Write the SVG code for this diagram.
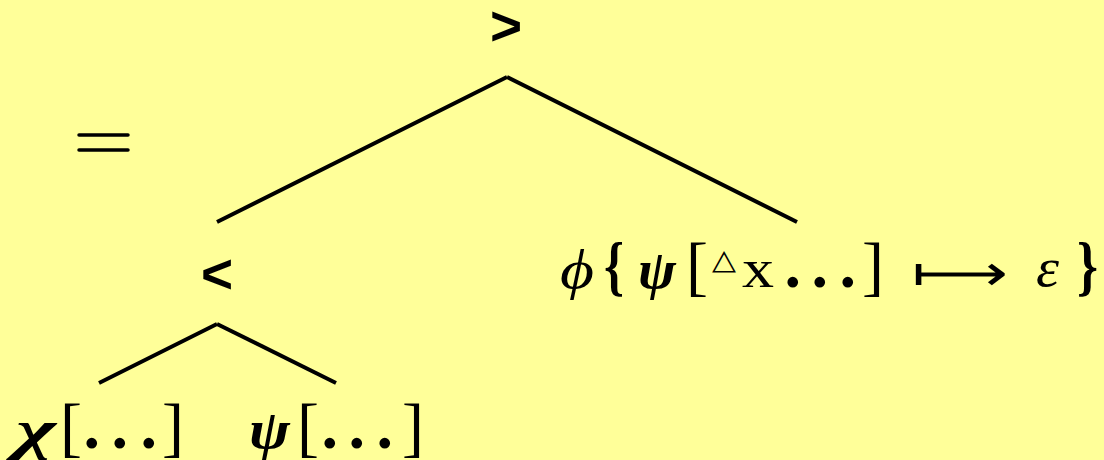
<svg xmlns="http://www.w3.org/2000/svg" width="1104" height="460" viewBox="0 0 1104 460">
<style>
.e{stroke:#000;stroke-width:4;stroke-linecap:butt;fill:none}
.op{font-family:"Liberation Sans",Arial,sans-serif;font-weight:bold;font-size:55px;fill:#000}
.m{font-family:"Liberation Serif","DejaVu Serif",serif;font-size:54px;fill:#000}
.br{font-size:66px}
.d{font-size:66px;font-weight:bold}
.i{font-style:italic}
.b{font-weight:bold}
</style>
<rect width="1104" height="460" fill="#ffff99"/>
<g id="connectors">
<line class="e" x1="507" y1="77" x2="217" y2="222"/>
<line class="e" x1="507" y1="77" x2="797" y2="222"/>
<line class="e" x1="217" y1="324" x2="99" y2="383"/>
<line class="e" x1="217" y1="324" x2="336" y2="383"/>
</g>
<g id="eq"><line x1="79" y1="135" x2="128" y2="135" stroke="#000" stroke-width="3.5" stroke-linecap="round"/><line x1="79" y1="150" x2="128" y2="150" stroke="#000" stroke-width="3.5" stroke-linecap="round"/></g>
<g id="gt"><text class="op" x="506" y="45" text-anchor="middle">&gt;</text></g>
<g id="lt"><text class="op" x="217" y="293" text-anchor="middle">&lt;</text></g>
<g id="right">
<text class="m i" x="560" y="288" font-size="58" textLength="34" lengthAdjust="spacingAndGlyphs">ϕ</text>
<text class="m br b" x="604" y="288" textLength="20" lengthAdjust="spacingAndGlyphs">{</text>
<text class="m i b" x="638" y="288" textLength="38" lengthAdjust="spacingAndGlyphs">ψ</text>
<text class="m br" x="686" y="288">[</text>
<text x="712" y="269" font-family="DejaVu Sans" font-size="28" textLength="24" lengthAdjust="spacingAndGlyphs">△</text>
<text class="m" x="742" y="287" textLength="32" lengthAdjust="spacingAndGlyphs">x</text>
<text class="m d" x="784.5 811.5 839.5" y="287">...</text>
<text class="m br" x="862" y="288">]</text>
<text x="912" y="290" font-family="DejaVu Sans" font-size="50" textLength="96" lengthAdjust="spacingAndGlyphs">⟼</text>
<text class="m i" x="1036" y="286" textLength="23" lengthAdjust="spacingAndGlyphs">ε</text>
<text class="m br b" x="1077" y="288" textLength="21" lengthAdjust="spacingAndGlyphs">}</text>
</g>
<g id="left">
<text class="m i b" x="16" y="448" font-size="58" textLength="40" lengthAdjust="spacingAndGlyphs">χ</text>
<text class="m br" x="60" y="449">[</text>
<text class="m d" x="83.5 111.5 140.5" y="448">...</text>
<text class="m br" x="162" y="449">]</text>
</g>
<g id="mid">
<text class="m i b" x="249" y="448" font-size="58" textLength="41" lengthAdjust="spacingAndGlyphs">ψ</text>
<text class="m br" x="297" y="449">[</text>
<text class="m d" x="321.5 348.5 376.5" y="448">...</text>
<text class="m br" x="402" y="449">]</text>
</g>
</svg>
